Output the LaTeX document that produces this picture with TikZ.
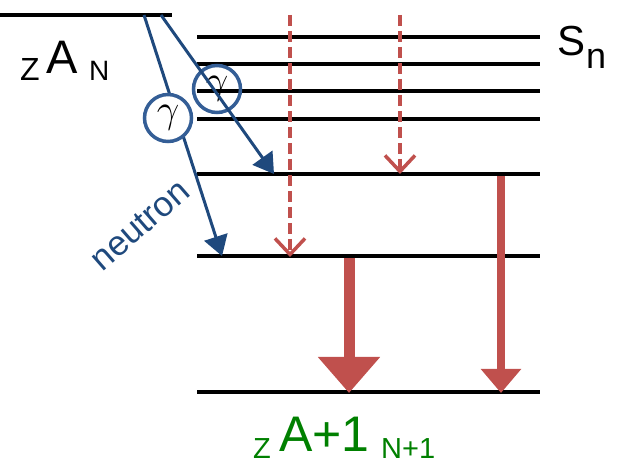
\RequirePackage{fix-cm}
\documentclass[tikz,border=0pt]{standalone}
\usepackage{fontspec}
\setmainfont{Liberation Sans}
\usetikzlibrary{arrows.meta}
\definecolor{lvlred}{RGB}{192,80,77}
\definecolor{nblue}{RGB}{31,73,125}
\definecolor{cblue}{RGB}{52,94,150}
\definecolor{dgreen}{RGB}{0,128,0}
\begin{document}
\begin{tikzpicture}[x=1pt,y=-1pt,
  level/.style={line width=3.5pt, black},
  bluearrow/.style={nblue, line width=3pt, -{Triangle[length=20pt,width=24pt]}},
  gammacirc/.style={circle, draw=cblue, line width=3.5pt, minimum size=47pt, inner sep=0pt,
                    font=\fontsize{40}{40}\selectfont},
  dasharrow/.style={lvlred, line width=3.5pt, dash pattern=on 11pt off 5pt,
                    -{Straight Barb[length=16pt,width=30pt]}},
  lbl/.style={inner sep=0pt, anchor=base west}
]
\useasboundingbox (0,0) rectangle (625,476);

% energy levels
\coordinate (g0w) at (0,15);   \coordinate (g0e) at (172,15);
\foreach \n/\y in {1/37,2/64,3/91,4/119,5/174,6/256,7/392}{
  \coordinate (L\n w) at (197,\y);
  \coordinate (L\n e) at (540,\y);
}
\draw[level] (g0w) -- (g0e);
\foreach \n in {1,...,7}{ \draw[level] (L\n w) -- (L\n e); }

% start and end points of the transitions
\coordinate (nStart) at (144,15);
\coordinate (nEnd)   at (222,256);
\coordinate (gStart) at (161,15);
\coordinate (gEnd)   at (274,174);
\coordinate (d1s) at (290,15);  \coordinate (d1e) at (290,257);
\coordinate (d2s) at (400,15);  \coordinate (d2e) at (400,174);
\coordinate (r1s) at (349,258); \coordinate (r1e) at (349,393);
\coordinate (r2s) at (501,176); \coordinate (r2e) at (501,393);

% gamma transitions, dashed
\draw[dasharrow] (d1s) -- (d1e);
\draw[dasharrow] (d2s) -- (d2e);

% strong decays
\draw[lvlred, line width=11pt, -{Triangle[length=36pt,width=60pt]}] (r1s) -- (r1e);
\draw[lvlred, line width=8pt, -{Triangle[length=24pt,width=39pt]}] (r2s) -- (r2e);

% gamma circle on the upper arrow
\node[gammacirc] (gam2) at (217,89) {$\gamma$};

% neutron and gamma arrows
\draw[bluearrow] (nStart) -- (nEnd);
\draw[bluearrow] (gStart) -- (gEnd);
\node[gammacirc, fill=white] (gam1) at (168,118) {$\gamma$};

\node[nblue, rotate=41, inner sep=0pt, font=\fontsize{35}{35}\selectfont] (neut) at (140,225) {neutron};

% nucleus labels
\node[lbl, font=\fontsize{32}{32}\selectfont] (zA) at (20,81) {Z};
\node[lbl, font=\fontsize{47}{47}\selectfont] (aA) at (46,74) {A};
\node[lbl, font=\fontsize{28}{28}\selectfont] (nA) at (89,81) {N};

\node[lbl, font=\fontsize{42}{42}\selectfont] (sS) at (557,56) {S};
\node[lbl, font=\fontsize{36}{36}\selectfont] (sn) at (586,69) {n};

\node[lbl, dgreen, font=\fontsize{29}{29}\selectfont] (zB) at (253,458) {Z};
\node[lbl, dgreen, font=\fontsize{50}{50}\selectfont] (aB) at (279,451) {A+1};
\node[lbl, dgreen, font=\fontsize{29}{29}\selectfont] (nB) at (381,458) {N+1};
\end{tikzpicture}
\end{document}
